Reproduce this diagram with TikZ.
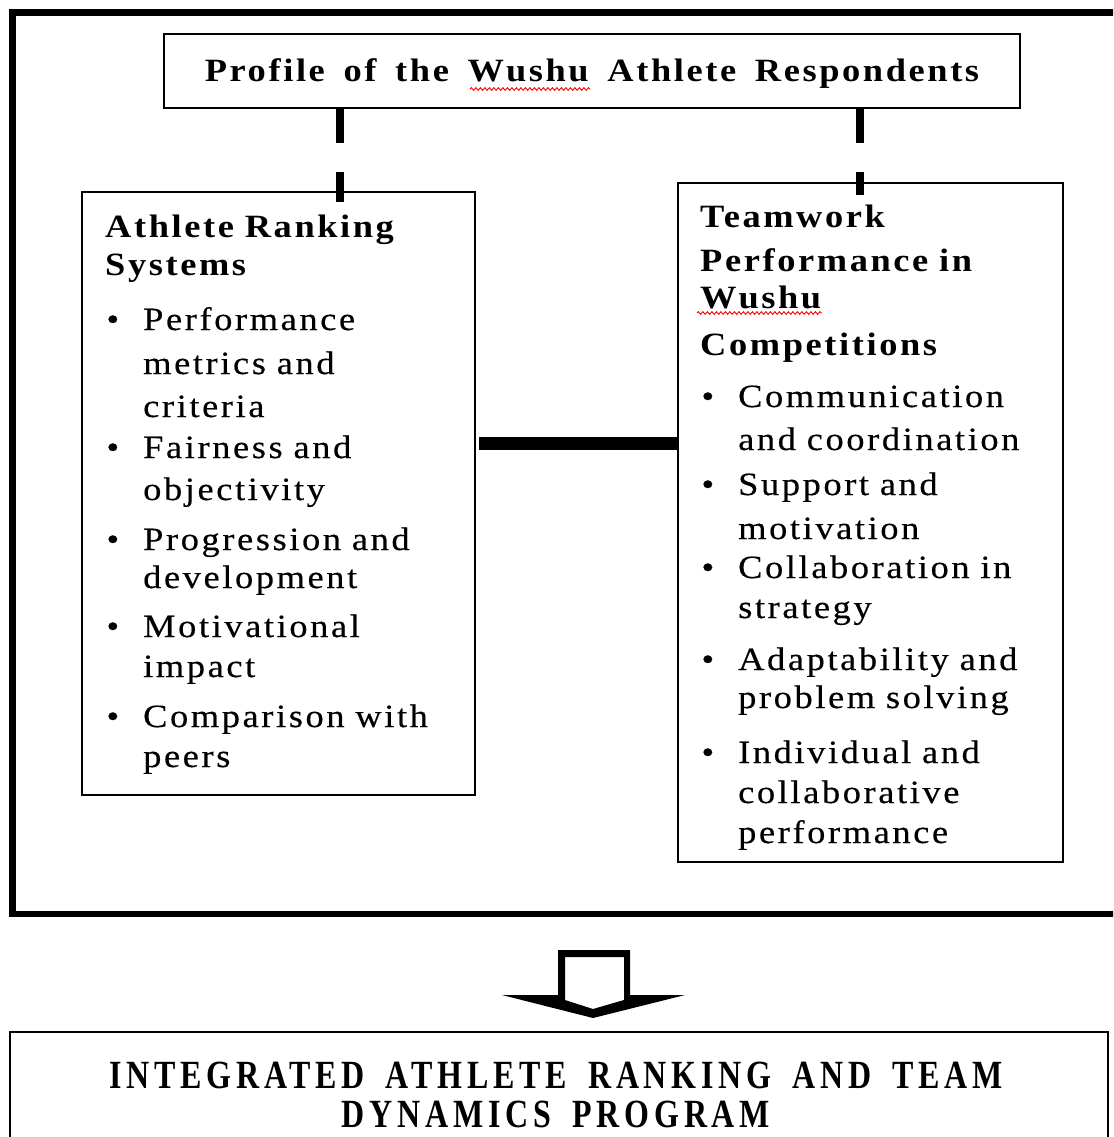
\documentclass[tikz,border=0pt]{standalone}
\usepackage{fontspec}
\setmainfont{Liberation Serif}[LetterSpace=8, FakeStretch=1.12, WordSpace=1.6,
  UprightFeatures={FakeBold=0.4}]
\newfontfamily\bannerfont{Liberation Serif}[FakeStretch=0.8, LetterSpace=12]
\usetikzlibrary{calc,decorations.pathmorphing}

\tikzset{
  frame/.style={line width=6.5pt},
  box/.style={draw, line width=2pt, rectangle, inner sep=0pt},
  dashlink/.style={line width=8pt, dash pattern=on 34pt off 29pt},
  barlink/.style={line width=13pt},
  heading/.style={font=\fontsize{32.5}{#1}\selectfont\bfseries, inner sep=0pt,
    align=left, anchor=base west, text width=360pt},
  entry/.style={font=\fontsize{32.5}{#1}\selectfont, inner sep=0pt,
    align=left, anchor=base west, text width=340pt},
  spell/.style={red, line width=0.9pt, decorate,
    decoration={snake, amplitude=1.3pt, segment length=4.5pt}},
}
% bullet hung to the left of the first line
\newcommand\bul{\llap{\textbullet\hskip 24pt}}
% wide word gaps for the program banner
\newcommand\widegaps{\spaceskip=21pt\relax}

\begin{document}
\begin{tikzpicture}[x=1pt, y=-1pt]
  \useasboundingbox (0,0) rectangle (1113,1137);
  \clip (0,0) rectangle (1113,1137);

  % outer frame around the framework
  \draw[frame] (12.5,12.5) rectangle (1125,914);

  % boxes
  \node[box, minimum width=856pt, minimum height=74pt] (profile) at (592,71) {};
  \node[box, minimum width=393pt, minimum height=603pt] (ars) at (278.5,493.5) {};
  \node[box, minimum width=385pt, minimum height=679pt] (tpw) at (870.5,522.5) {};
  \node[draw, line width=2.5pt, minimum width=1098pt, minimum height=140pt, inner sep=0pt]
    (program) at (559,1102) {};

  % connectors
  \coordinate (lend) at ($(ars.north)+(61.5,11)$);
  \coordinate (rend) at ($(tpw.north)+(-10.5,13)$);
  \draw[dashlink] (profile.south -| lend) -- (lend);
  \draw[dashlink] (profile.south -| rend) -- (rend);
  \coordinate (barlevel) at (0,443);
  \draw[barlink] ($(ars.east |- barlevel)+(3,0)$) -- ($(tpw.west |- barlevel)+(2,0)$);

  % hollow block arrow down to the program
  \fill[even odd rule]
    (558,950) -- (630,950) -- (630,995) -- (685,995) -- (593,1018)
      -- (502,995) -- (558,995) -- cycle
    (565,957) -- (624,957) -- (624,1000) -- (593,1009) -- (565,1000) -- cycle;

  % texts
  \node[font=\fontsize{32.5}{40}\selectfont\bfseries, inner sep=0pt, anchor=base]
    (profiletext) at (592,82) {Profile of the Wushu Athlete Respondents};

  \node[heading=38] (arstitle) at (105,237) {Athlete Ranking\\Systems};
  \node[entry=41] (a1) at (143,330) {\bul Performance\\[3pt]metrics and\\[2pt]criteria};
  \node[entry=42] (a2) at (143,458) {\bul Fairness and\\objectivity};
  \node[entry=38] (a3) at (143,550) {\bul Progression and\\development};
  \node[entry=40] (a4) at (143,637) {\bul Motivational\\impact};
  \node[entry=40] (a5) at (143,727) {\bul Comparison with\\peers};

  \node[heading=40] (tpwtitle) at (700,227)
    {Teamwork\\[4pt]\makebox[272pt][s]{Performance in}\\[-3pt]Wushu\\[7pt]Competitions};
  \node[entry=43] (b1) at (738,407) {\bul Communication\\and coordination};
  \node[entry=44] (b2) at (738,495) {\bul Support and\\motivation};
  \node[entry=40] (b3) at (738,578) {\bul Collaboration in\\strategy};
  \node[entry=38] (b4) at (738,670) {\bul Adaptability and\\problem solving};
  \node[entry=40] (b5) at (738,763) {\bul Individual and\\collaborative\\performance};

  \node[font=\bannerfont\bfseries\fontsize{40}{39}\selectfont,
    inner sep=0pt, align=center, text width=1060pt, anchor=base] (programtext) at (556,1088)
    {\widegaps INTEGRATED ATHLETE RANKING AND TEAM\\DYNAMICS PROGRAM};

  % spell-check marks under "Wushu"
  \draw[spell] (470,89) -- (590,89);
  \draw[spell] (697,313) -- (822,313);
\end{tikzpicture}
\end{document}
